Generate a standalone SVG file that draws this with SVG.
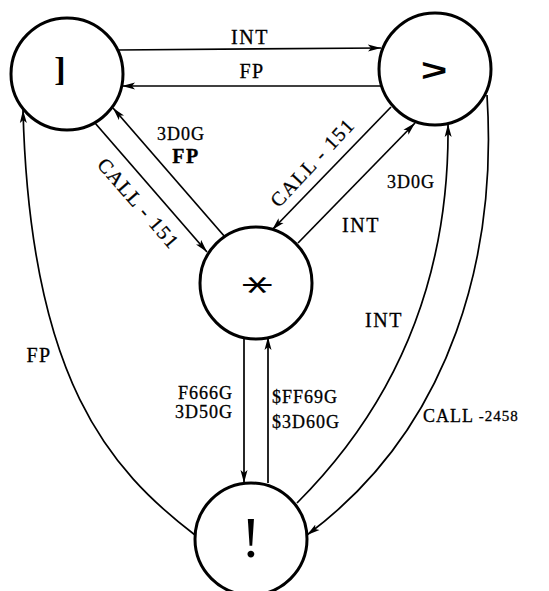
<svg xmlns="http://www.w3.org/2000/svg" width="549" height="591" viewBox="0 0 549 591">
<style>
.node{fill:#fff;stroke:#000;stroke-width:3}
.edge{fill:none;stroke:#000;stroke-width:1.7}
.lbl{font-family:"Liberation Serif","DejaVu Serif",serif;font-size:20px;fill:#000;letter-spacing:1.5px;stroke:#000;stroke-width:0.3}
.small{font-size:18px;letter-spacing:1px}
.glyph{font-family:"Liberation Serif","DejaVu Serif",serif;fill:#000}
</style>
<defs>
<marker id="arr" markerUnits="userSpaceOnUse" markerWidth="14" markerHeight="8" refX="13" refY="4" orient="auto">
<path d="M0,0.5 L13,4 L0,7.5 L3,4 z" fill="#000"/>
</marker>
</defs>
<rect width="549" height="591" fill="#fff"/>
<g id="connectors">
<path class="edge" d="M118,50 L381,48" marker-end="url(#arr)"/>
<path class="edge" d="M381,86 L122,86" marker-end="url(#arr)"/>
<path class="edge" d="M95,123 L207,252" marker-end="url(#arr)"/>
<path class="edge" d="M225,237 L113,108" marker-end="url(#arr)"/>
<path class="edge" d="M391,107 L272,230" marker-end="url(#arr)"/>
<path class="edge" d="M298,243 L415,123" marker-end="url(#arr)"/>
<path class="edge" d="M244,337 L244,483" marker-end="url(#arr)"/>
<path class="edge" d="M268,483 L268,337" marker-end="url(#arr)"/>
<path class="edge" d="M195,535 C110,470 30,380 23,110" marker-end="url(#arr)"/>
<path class="edge" d="M297,503 C380,420 450,300 448,124" marker-end="url(#arr)"/>
<path class="edge" d="M487,95 C497,250 455,425 307,535" marker-end="url(#arr)"/>
</g>
<g id="edge-labels">
<text class="lbl" x="250" y="44" text-anchor="middle">INT</text>
<text class="lbl" x="252" y="78" text-anchor="middle">FP</text>
<text class="lbl small" x="181" y="140" text-anchor="middle">3D0G</text>
<text class="lbl" x="186" y="163" text-anchor="middle" font-weight="bold">FP</text>
<text class="lbl" transform="translate(138,204) rotate(49)" x="0" y="6" text-anchor="middle" font-size="19.5">CALL - 151</text>
<text class="lbl" transform="translate(313,163) rotate(-47)" x="0" y="6" text-anchor="middle" font-size="19.5">CALL - 151</text>
<text class="lbl small" x="411" y="188" text-anchor="middle">3D0G</text>
<text class="lbl" x="361" y="232" text-anchor="middle">INT</text>
<text class="lbl" x="384" y="327" text-anchor="middle">INT</text>
<text class="lbl" x="39" y="362" text-anchor="middle">FP</text>
<text class="lbl small" x="233" y="399" text-anchor="end" font-size="17">F666G</text>
<text class="lbl small" x="233" y="418" text-anchor="end" font-size="17">3D50G</text>
<text class="lbl small" x="272" y="403" text-anchor="start">$FF69G</text>
<text class="lbl small" x="272" y="428" text-anchor="start">$3D60G</text>
<text class="lbl small" x="423" y="422" letter-spacing="3">CALL <tspan font-size="15" letter-spacing="1" dy="-1">-2458</tspan></text>
</g>
<g id="node-bracket">
<circle class="node" cx="67" cy="74" r="56"/>
<text class="glyph" x="60" y="81" font-size="34" font-weight="bold" text-anchor="middle">]</text>
</g>
<g id="node-gt">
<circle class="node" cx="435" cy="69" r="56"/>
<text class="glyph" x="0" y="0" font-size="32" font-weight="bold" text-anchor="middle" transform="translate(434,81) scale(1.4,1)" style="font-family:'Liberation Sans',sans-serif">&gt;</text>
</g>
<g id="node-star">
<circle class="node" cx="256" cy="283" r="56"/>
<text class="glyph" x="0" y="0" font-size="48" text-anchor="middle" transform="translate(260,285) scale(1.3,0.75) rotate(90) translate(0,27)" style="font-family:'DejaVu Sans',sans-serif">*</text>
</g>
<g id="node-bang">
<circle class="node" cx="251" cy="539" r="56"/>
<text class="glyph" x="251" y="557" font-size="58" text-anchor="middle">!</text>
</g>
</svg>
